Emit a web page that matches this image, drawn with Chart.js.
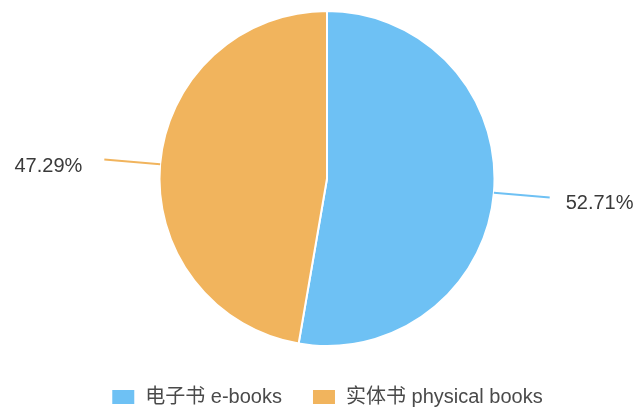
<!DOCTYPE html>
<html>
<head>
<meta charset="utf-8">
<script src="https://cdn.jsdelivr.net/npm/chart.js@4/dist/chart.umd.min.js"></script>
<style>
  html, body { margin: 0; padding: 0; background: #fff; }
  #wrap { width: 639px; height: 407px; }
</style>
</head>
<body>
<div id="wrap"><canvas id="pie"></canvas></div>
<script>
// book format share
const labels = ['电子书 e-books', '实体书 physical books'];
const shares = [52.71, 47.29];
const colors = ['#6ec1f4', '#f1b45d'];

const FONT = "'Liberation Sans', 'Noto Sans CJK SC', sans-serif";

// leader lines + percent labels, placed from the arc geometry
const outsideLabels = {
  id: 'outsideLabels',
  afterLayout(chart) {
    // legend sits a bit lower than the default layout puts it
    chart.legend.top += 10;
    chart.legend.bottom += 10;
  },
  afterDatasetsDraw(chart) {
    const ctx = chart.ctx;
    const meta = chart.getDatasetMeta(0);
    meta.data.forEach((arc, i) => {
      const p = arc.getProps(['x', 'y', 'startAngle', 'endAngle', 'outerRadius'], true);
      const mid = (p.startAngle + p.endAngle) / 2;
      const cos = Math.cos(mid), sin = Math.sin(mid);
      const x1 = p.x + cos * p.outerRadius, y1 = p.y + sin * p.outerRadius;
      const x2 = p.x + cos * (p.outerRadius + 56), y2 = p.y + sin * (p.outerRadius + 56);
      ctx.save();
      ctx.strokeStyle = colors[i];
      ctx.lineWidth = 1.8;
      ctx.beginPath();
      ctx.moveTo(x1, y1);
      ctx.lineTo(x2, y2);
      ctx.stroke();
      const right = cos >= 0;
      ctx.fillStyle = '#3a3a3a';
      ctx.font = '20px ' + FONT;
      ctx.textAlign = right ? 'left' : 'right';
      ctx.textBaseline = 'middle';
      ctx.fillText(shares[i].toFixed(2) + '%', x2 + (right ? 16 : -22), y2 + (right ? 6 : 7));
      ctx.restore();
    });
  }
};

new Chart(document.getElementById('pie'), {
  type: 'pie',
  data: {
    labels,
    datasets: [{
      data: shares,
      backgroundColor: colors,
      borderColor: '#ffffff',
      borderWidth: 2
    }]
  },
  options: {
    responsive: true,
    maintainAspectRatio: false,
    animation: false,
    layout: { padding: { top: 10, left: 15, right: 0, bottom: 0 } },
    plugins: {
      tooltip: { enabled: false },
      legend: {
        position: 'bottom',
        labels: {
          boxWidth: 24,
          boxHeight: 16,
          padding: 30,
          color: '#4a4a4a',
          font: { size: 20, family: FONT }
        }
      }
    }
  },
  plugins: [outsideLabels]
});
</script>
</body>
</html>
